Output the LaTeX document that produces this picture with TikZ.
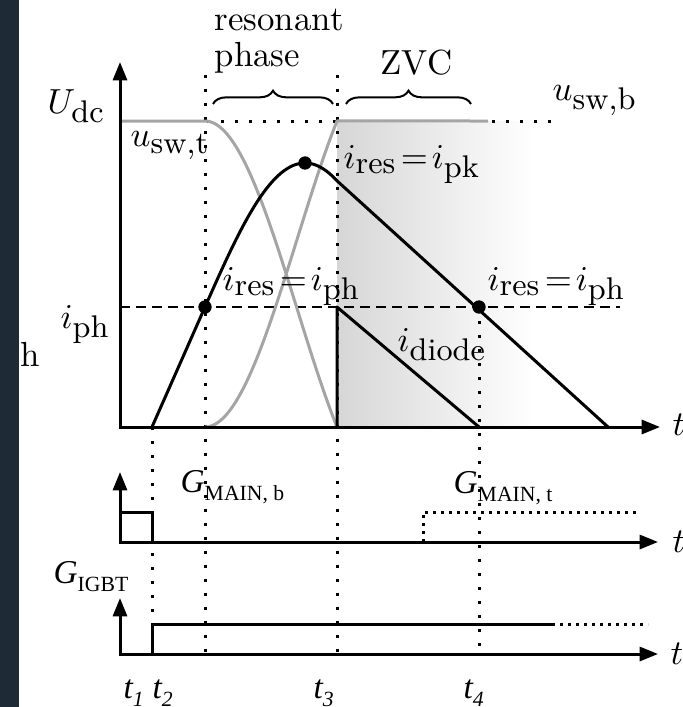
\documentclass[tikz,border=0pt]{standalone}
\usepackage{fontspec}
\newfontfamily\tms{Liberation Serif}
\usetikzlibrary{arrows.meta,decorations.pathreplacing}
\definecolor{strip}{RGB}{30,43,54}
\definecolor{curvegray}{RGB}{165,165,165}
\DeclareMathSizes{10}{10}{9}{7}
\thickmuskip=2mu
\newcommand\tsub[1]{\raisebox{-2.6pt}{\fontsize{6.5}{7.5}\selectfont #1}}
\begin{document}
\begin{tikzpicture}[x=0.3pt,y=-0.3pt,
  >={Triangle[length=5.5pt,width=4.2pt]},
  axisline/.style={line width=0.9pt},
  vdot/.style={line width=0.9pt,dash pattern=on 0.9pt off 3.3pt},
  hdot/.style={line width=0.9pt,dash pattern=on 0.9pt off 1.5pt},
  dashline/.style={line width=0.8pt,dash pattern=on 3pt off 1.8pt},
  curve/.style={line width=0.9pt,black,line join=round},
  gcurve/.style={line width=0.9pt,curvegray,line join=round},
  mlab/.style={font=\fontsize{10}{12}\selectfont,inner sep=0pt,anchor=base west,scale=1.045,transform shape},
  tlab/.style={font=\tms\fontsize{10}{11}\selectfont,inner sep=0pt,anchor=base west},
  bigdot/.style={circle,fill=black,inner sep=0pt,minimum size=4pt},
  bracestyle/.style={decorate,decoration={brace,amplitude=4pt},line width=0.6pt}]
\useasboundingbox (0,0) rectangle (682,707);
\fill[strip] (0,0) rectangle (19,707);

% shading of ZVC region
\shade[left color=black!16,right color=white] (337,121) rectangle (535,427);

% named coordinates
\coordinate (O) at (120,427);
\coordinate (Ytop) at (120,62);
\coordinate (Xend) at (660,427);
\coordinate (O1) at (120,542);
\coordinate (Y1) at (120,472);
\coordinate (X1) at (658,542);
\coordinate (O2) at (120,654);
\coordinate (Y2) at (120,598);
\coordinate (X2) at (658,654);

% dotted vertical time markers
\draw[vdot] (152,427) -- (152,624);
\draw[vdot] (205,75) -- (205,654);
\draw[vdot] (337,75) -- (337,654);
\draw[vdot] (479,307) -- (479,654);
% dotted U_dc level
\draw[vdot] (207,121) -- (337,121);
\draw[vdot] (492,121) -- (560,121);

% i_ph dashed
\draw[dashline] (120,307) -- (620,307);

% gray voltage curves
\draw[gcurve] (120,121) -- (205,121) -- plot[domain=0:132,samples=60] ({205+\x},{121+306*(1-cos(\x*0.9766))/1.628});
\draw[gcurve] plot[domain=0:132,samples=60] ({205+\x},{427-306*(1-cos(\x*0.9766))/1.628}) -- (488,121);

% resonant current
\draw[curve] (152,427) -- (205,307) -- plot[domain=0:132,samples=60] ({205+\x},{307-144*sin(\x*0.9)}) -- (608,427);
% diode current
\draw[curve] (337,427) -- (337,307) -- (479,427);

% dots
\node[bigdot] (d1) at (205,307) {};
\node[bigdot] (d2) at (305,163) {};
\node[bigdot] (d3) at (479,307) {};

% main axes
\draw[axisline,<->] (Ytop) -- (O) -- (Xend);
% panel 1
\draw[axisline,<->] (Y1) -- (O1) -- (X1);
\draw[axisline] (120,512) -- (152,512) -- (152,542);
\draw[hdot] (423,542) -- (423,512) -- (637,512);
% panel 2
\draw[axisline,<->] (Y2) -- (O2) -- (X2);
\draw[axisline] (152,654) -- (152,624) -- (552,624);
\draw[hdot] (552,624) -- (648,624);

% braces
\draw[bracestyle] (213,104) -- (333,104);
\draw[bracestyle] (346,104) -- (471,104);

% labels
\node[mlab] (res) at (214,30) {resonant};
\node[mlab] (pha) at (214,67) {phase};
\node[mlab] (zvc) at (380,75) {ZVC};
\node[mlab] (Udc) at (47,113) {$U_{\mathrm{dc}}$};
\node[mlab] (uswt) at (130,146) {$u_{\mathrm{sw,t}}$};
\node[mlab] (uswb) at (552,100) {$u_{\mathrm{sw,b}}$};
\node[mlab] (ipk) at (343,168) {$i_{\mathrm{res}}=i_{\mathrm{pk}}$};
\node[mlab] (iph1) at (222,290) {$i_{\mathrm{res}}=i_{\mathrm{ph}}$};
\node[mlab] (iph2) at (487,290) {$i_{\mathrm{res}}=i_{\mathrm{ph}}$};
\node[mlab] (idiode) at (397,351) {$i_{\mathrm{diode}}$};
\node[mlab] (iphax) at (60,328) {$i_{\mathrm{ph}}$};
\node[mlab] (hstray) at (20,366) {h};
\node[mlab] (ta) at (672,435) {$t$};
\node[mlab] (tb) at (672,552) {$t$};
\node[mlab] (tc) at (670,664) {$t$};

\node[tlab] (gmb) at (180,492) {\itshape G\upshape\tsub{MAIN, b}};
\node[tlab] (gmt) at (453,493) {\itshape G\upshape\tsub{MAIN, t}};
\node[tlab] (gigbt) at (53,583) {\itshape G\upshape\tsub{IGBT}};
\node[tlab] (t1) at (123,698) {\itshape t\tsub{1}};
\node[tlab] (t2) at (152,698) {\itshape t\tsub{2}};
\node[tlab] (t3) at (313,698) {\itshape t\tsub{3}};
\node[tlab] (t4) at (463,698) {\itshape t\tsub{4}};
\end{tikzpicture}
\end{document}
